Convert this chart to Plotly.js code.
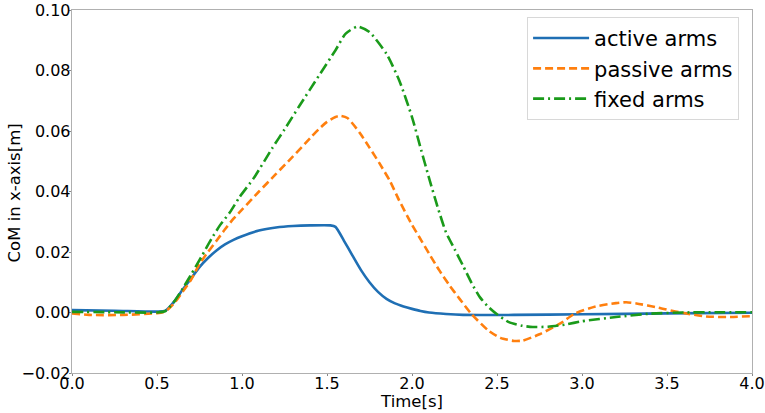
<!doctype html>
<html>
<head>
  <meta charset="utf-8">
  <title>CoM in x-axis</title>
  <script src="https://cdn.plot.ly/plotly-3.0.1.min.js"></script>
  <style>
    body { margin: 0; background: #fff; }
    #plot { width: 765px; height: 413px; }
  </style>
</head>
<body>
  <div id="plot"></div>
  <script>
    // values
    var activeT = [0, 0.25, 0.5, 0.55, 0.6, 0.65, 0.7, 0.75, 0.8, 0.85, 0.9, 0.95, 1.0, 1.1, 1.2, 1.3, 1.4, 1.52,
                   1.55, 1.6, 1.65, 1.7, 1.75, 1.8, 1.85, 1.9, 1.95, 2.0, 2.05, 2.1, 2.2, 2.3, 2.6, 3.0, 3.5, 4.0];
    var activeY = [0.0008, 0.0006, 0.0003, 0.0006, 0.0035, 0.0075, 0.0112, 0.015, 0.018, 0.0205, 0.0225, 0.024,
                   0.0252, 0.0271, 0.0281, 0.0286, 0.0288, 0.0288,
                   0.0283, 0.0237, 0.0188, 0.014, 0.0100, 0.0068, 0.0045, 0.003, 0.002, 0.0012, 0.0005, 0.0,
                   -0.0005, -0.0008, -0.0008, -0.0006, -0.0003, -0.0001];

    var passiveT = [0, 0.1, 0.3, 0.5, 0.55, 0.6, 0.65, 0.7, 0.75, 0.8, 0.85, 0.9, 0.95, 1.0, 1.1, 1.2, 1.3, 1.4,
                    1.45, 1.5, 1.55, 1.58, 1.62, 1.69, 1.75, 1.81, 1.87, 1.925, 2.0, 2.04, 2.1, 2.16, 2.22, 2.28,
                    2.35, 2.45, 2.52, 2.6, 2.65, 2.75, 2.87, 2.96, 3.08, 3.2, 3.26, 3.32, 3.45, 3.57, 3.73, 3.85, 4.0];
    var passiveY = [-0.0003, -0.0008, -0.0008, -0.0002, 0.0004, 0.003, 0.0068, 0.0108, 0.016, 0.0200, 0.0237,
                    0.0275, 0.031, 0.034, 0.040, 0.0458, 0.0516, 0.0576,
                    0.0605, 0.063, 0.0646, 0.065, 0.0643, 0.0596, 0.0545, 0.0492, 0.0435, 0.0370, 0.029, 0.0252,
                    0.0195, 0.0140, 0.0090, 0.0045,
                    -0.0005, -0.006, -0.0084, -0.0094, -0.0093, -0.0072, -0.0037, -0.0003, 0.002, 0.0031, 0.0034,
                    0.0030, 0.0016, 0.0001, -0.0013, -0.0015, -0.0012];

    var fixedT = [0, 0.25, 0.5, 0.55, 0.6, 0.65, 0.7, 0.76, 0.82, 0.87, 0.93, 0.985, 1.07, 1.18, 1.25, 1.34, 1.455,
                  1.55, 1.61, 1.68, 1.75, 1.85, 1.925, 2.0, 2.05, 2.1, 2.15, 2.2, 2.25, 2.3, 2.35, 2.4, 2.45, 2.5,
                  2.57, 2.65, 2.71, 2.8, 2.9, 3.0, 3.2, 3.4, 3.6, 3.8, 4.0];
    var fixedY = [0.0002, 0.0001, 0.0, 0.0005, 0.0035, 0.0078, 0.0125, 0.0183, 0.0243, 0.0288, 0.0332, 0.0381,
                  0.0445, 0.0545, 0.0605, 0.0685, 0.0785,
                  0.0867, 0.0922, 0.0945, 0.0927, 0.0855, 0.0767, 0.0646, 0.0545, 0.0445, 0.035, 0.0265, 0.021,
                  0.0155, 0.0098, 0.0050, 0.0018, -0.0006,
                  -0.0032, -0.0044, -0.0048, -0.0047, -0.004, -0.0029, -0.0015, -0.0004, 0.0, 0.0001, 0.0001];

    var seriesNames = ['active arms', 'passive arms', 'fixed arms'];
    var xTicks = [0, 0.5, 1, 1.5, 2, 2.5, 3, 3.5, 4];
    var yTicks = [-0.02, 0, 0.02, 0.04, 0.06, 0.08, 0.1];

    var traces = [
      {
        x: activeT, y: activeY, name: seriesNames[0], legendgroup: 'a', mode: 'lines', type: 'scatter',
        line: {color: '#1f6fb4', width: 2.6, shape: 'spline', smoothing: 0.6}
      },
      {
        x: passiveT, y: passiveY, name: seriesNames[1], legendgroup: 'b', mode: 'lines', type: 'scatter',
        line: {color: '#ff7f0e', width: 2.6, dash: '8px,4px', shape: 'spline', smoothing: 0.6}
      },
      {
        x: fixedT, y: fixedY, name: seriesNames[2], legendgroup: 'c', mode: 'lines', type: 'scatter',
        line: {color: '#1a9a1a', width: 2.6, dash: '11px,4px,2px,4px', shape: 'spline', smoothing: 0.6}
      }
    ];

    var axisCommon = {
      showgrid: false,
      zeroline: false,
      showline: true,
      mirror: true,
      linecolor: '#b0b0b0',
      linewidth: 1.3,
      ticks: 'outside',
      ticklen: 2,
      tickwidth: 1,
      tickcolor: '#888',
      tickfont: {family: 'DejaVu Sans', size: 16, color: '#000'},
      ticklabeloverflow: 'allow',
      automargin: false
    };

    var layout = {
      width: 765,
      height: 413,
      margin: {l: 72, r: 13, t: 10, b: 40},
      paper_bgcolor: '#fff',
      plot_bgcolor: '#fff',
      font: {family: 'DejaVu Sans', color: '#000'},
      xaxis: Object.assign({}, axisCommon, {
        range: [0, 4],
        tickvals: xTicks,
        tickformat: '.1f',
        ticklabelstandoff: -7,
        title: {text: 'Time[s]', font: {family: 'DejaVu Sans', size: 16.5}, standoff: 0}
      }),
      yaxis: Object.assign({}, axisCommon, {
        range: [-0.02, 0.1],
        tickvals: yTicks,
        tickformat: '.2f',
        ticklabelstandoff: -5
      }),
      // y title as a rotated annotation so it can sit closer to the tick labels
      annotations: [{
        text: 'CoM in x-axis[m]',
        xref: 'paper', yref: 'paper',
        x: -0.084, y: 0.497,
        xanchor: 'center', yanchor: 'middle',
        textangle: -90,
        showarrow: false,
        font: {family: 'DejaVu Sans', size: 16.5, color: '#000'}
      }],
      legend: {
        x: 0.981, y: 0.981, xanchor: 'right', yanchor: 'top',
        bgcolor: 'rgba(255,255,255,0.8)',
        bordercolor: '#d8d8d8',
        borderwidth: 1,
        font: {family: 'DejaVu Sans', size: 21, color: '#000'},
        itemwidth: 56,
        tracegroupgap: 0
      },
      showlegend: true
    };

    Plotly.newPlot('plot', traces, layout, {displayModeBar: false, staticPlot: true});
  </script>
</body>
</html>
